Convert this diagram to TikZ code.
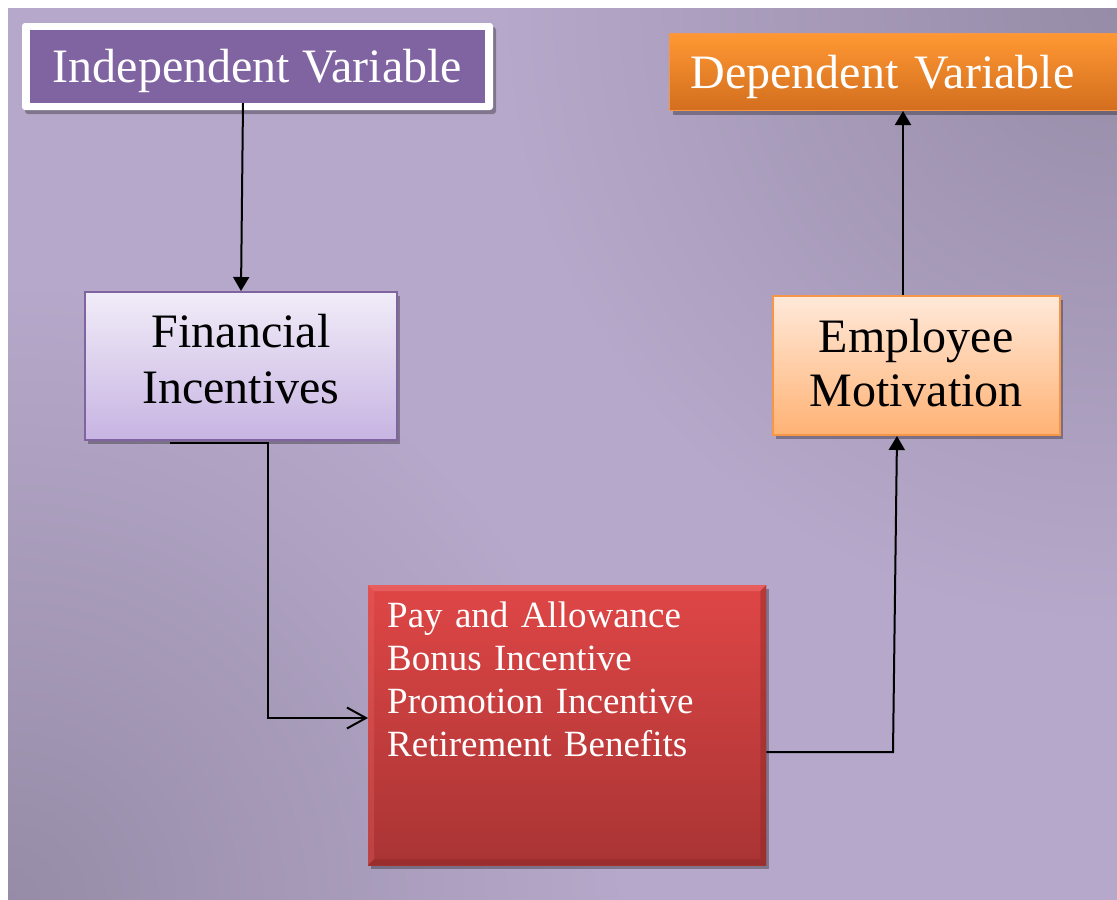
\documentclass[tikz,border=0pt]{standalone}
\usepackage{fontspec}
\setmainfont{Liberation Serif}
\usetikzlibrary{arrows.meta,shadows,calc}
\definecolor{bgbase}{HTML}{B6A8CA}
\definecolor{bgdark}{HTML}{968CA7}
\definecolor{ipurple}{HTML}{8064A2}
\definecolor{dtop}{HTML}{FF9833}
\definecolor{dbot}{HTML}{D26E1E}
\definecolor{dborder}{HTML}{F79646}
\definecolor{ftop}{HTML}{F1ECF8}
\definecolor{fbot}{HTML}{C7B4E2}
\definecolor{etop}{HTML}{FFE9DA}
\definecolor{ebot}{HTML}{FFB274}
\definecolor{rtop}{HTML}{DF4646}
\definecolor{rbot}{HTML}{A93434}
\definecolor{rlight}{HTML}{F07070}
\definecolor{rdark}{HTML}{8E2828}
\pgfdeclareradialshading{cornerdark}{\pgfpoint{0bp}{0bp}}{color(0bp)=(bgdark); color(25bp)=(bgbase); color(50bp)=(bgbase)}
\begin{document}
\begin{tikzpicture}[x=1pt,y=-1pt,
  shad/.style={drop shadow={shadow xshift=3pt,shadow yshift=-4pt,opacity=0.3,fill=black}},
  bigfont/.style={font=\fontsize{48}{56}\selectfont},
  framebox/.style={shad,fill=white,rounded corners=3pt,minimum width=471pt,minimum height=87pt,inner sep=0pt},
  indepbox/.style={bigfont,fill=ipurple,text=white,inner sep=0pt,minimum width=455pt},
  depbox/.style={shad,bigfont,top color=dtop,bottom color=dbot,draw=dborder,line width=1pt,text=white,inner ysep=0pt,inner xsep=21pt,text width=420pt,align=left},
  finbox/.style={shad,bigfont,top color=ftop,bottom color=fbot,draw=ipurple,line width=2pt,text=black,inner sep=0pt,minimum width=312pt,align=center},
  empbox/.style={shad,font=\fontsize{48}{54}\selectfont,top color=etop,bottom color=ebot,draw=dborder,line width=2pt,text=black,inner sep=0pt,minimum width=287pt,align=center},
  redbox/.style={shad,font=\fontsize{37}{43}\selectfont,top color=rtop,bottom color=rbot,text=white,inner ysep=0pt,inner xsep=19pt,text width=360pt,align=left},
  conn/.style={line width=2pt,black},
  filltip/.style={-{Triangle[width=16pt,length=14pt]}},
  opentip/.style={-{Straight Barb[width=21pt,length=19pt]}}
]
\useasboundingbox (0,0) rectangle (1117,900);
\fill[white] (0,0) rectangle (1117,900);
\begin{scope}
  \clip (8,8) rectangle (1117,900);
  \fill[bgbase] (8,8) rectangle (1117,900);
  \shade[shading=cornerdark] (8,900) circle (620);
  \shade[shading=cornerdark] (1117,8) circle (620);
\end{scope}

% top boxes
\node[framebox] (indepframe) at (257.5,66.5) {};
\node[indepbox] (indep) at (257.5,66.5) {\rule{0pt}{52pt}Independent Variable\rule[-21pt]{0pt}{21pt}};
\node[depbox,anchor=north west] (dep) at (669,33) {\noindent\rule{0pt}{55.3pt}Dependent Variable\rule[-21.7pt]{0pt}{21.7pt}};

% middle boxes
\node[finbox] (fin) at (241,366) {\rule{0pt}{55pt}Financial\\Incentives\rule[-37pt]{0pt}{37pt}};
\node[empbox] (emp) at (916,365.5) {\rule{0pt}{56pt}Employee\\Motivation\rule[-29pt]{0pt}{29pt}};

% red box
\node[redbox,anchor=north west] (red) at (368,585) {\noindent\rule{0pt}{42.7pt}Pay and Allowance\\Bonus Incentive\\Promotion Incentive\\Retirement Benefits\rule[-108.3pt]{0pt}{108.3pt}};
\fill[rlight,opacity=0.55] (red.north west) -- (red.north east) -- ([shift={(-6pt,-6pt)}]red.north east) -- ([shift={(6pt,-6pt)}]red.north west) -- cycle;
\fill[rlight,opacity=0.25] (red.north west) -- ([shift={(6pt,-6pt)}]red.north west) -- ([shift={(6pt,6pt)}]red.south west) -- (red.south west) -- cycle;
\fill[rdark,opacity=0.45] (red.north east) -- (red.south east) -- ([shift={(-6pt,6pt)}]red.south east) -- ([shift={(-6pt,-6pt)}]red.north east) -- cycle;
\fill[rdark,opacity=0.55] (red.south west) -- (red.south east) -- ([shift={(-6pt,6pt)}]red.south east) -- ([shift={(6pt,6pt)}]red.south west) -- cycle;

% connectors
\draw[conn,filltip] ([xshift=-14.5pt]indep.south) -- (fin.north);

\coordinate (a0) at ([xshift=-71pt,yshift=-2pt]fin.south);
\coordinate (b1) at (268,718);
\draw[conn,opentip] (a0) -| (b1) -- (b1 -| red.west);

\coordinate (c1) at (893,752);
\draw[conn,filltip] (c1 -| red.east) -- (c1) -- ([xshift=-19pt]emp.south);

\coordinate (e4) at ([xshift=-13pt]emp.north);
\draw[conn,filltip] (e4) -- (e4 |- dep.south);
\end{tikzpicture}
\end{document}
